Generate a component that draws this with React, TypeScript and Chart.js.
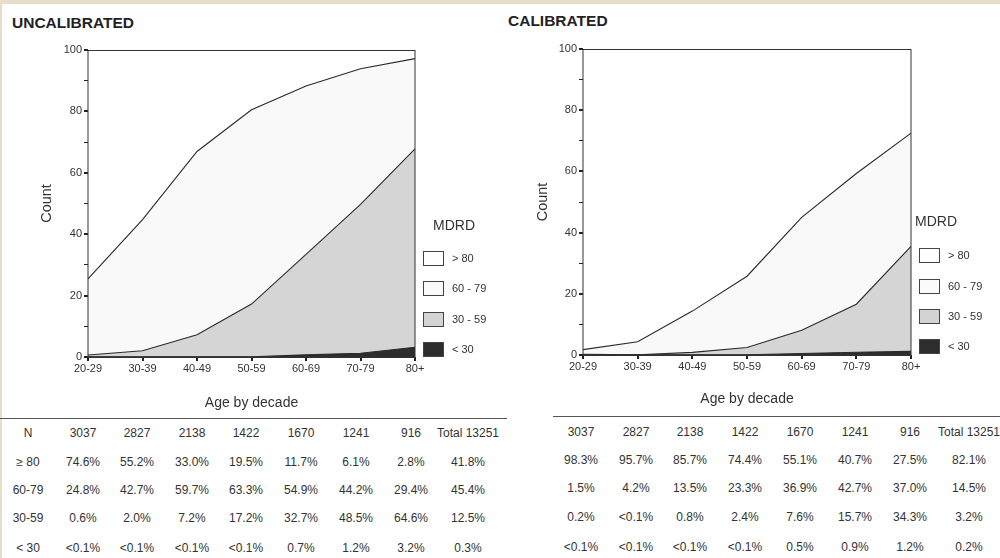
import React, { useEffect, useRef } from "react";
import { Chart, registerables } from "chart.js";

Chart.register(...registerables);

// ---------- data ----------
const AGE_GROUPS = ["20-29", "30-39", "40-49", "50-59", "60-69", "70-79", "80+"];
const N_COUNTS = [3037, 2827, 2138, 1422, 1670, 1241, 916];
const N_TOTAL = 13251;
const ROW_LABELS = ["\u2265 80", "60-79", "30-59", "< 30"];
const LEGEND_LABELS = ["> 80", "60 - 79", "30 - 59", "< 30"];
const Y_LABEL_EVERY = 20;

// percentages (0.05 stands for "<0.1%")
const UNCAL_GE80 = [74.6, 55.2, 33.0, 19.5, 11.7, 6.1, 2.8];
const UNCAL_60_79 = [24.8, 42.7, 59.7, 63.3, 54.9, 44.2, 29.4];
const UNCAL_30_59 = [0.6, 2.0, 7.2, 17.2, 32.7, 48.5, 64.6];
const UNCAL_LT30 = [0.05, 0.05, 0.05, 0.05, 0.7, 1.2, 3.2];
const UNCAL_TOTALS = [41.8, 45.4, 12.5, 0.3];

const CAL_GE80 = [98.3, 95.7, 85.7, 74.4, 55.1, 40.7, 27.5];
const CAL_60_79 = [1.5, 4.2, 13.5, 23.3, 36.9, 42.7, 37.0];
const CAL_30_59 = [0.2, 0.05, 0.8, 2.4, 7.6, 15.7, 34.3];
const CAL_LT30 = [0.05, 0.05, 0.05, 0.05, 0.5, 0.9, 1.2];
const CAL_TOTALS = [82.1, 14.5, 3.2, 0.2];

// ---------- styles ----------
const FONT = "'Liberation Sans', Arial, sans-serif";
const TEXT = "#333";
const FILLS = ["#2d2d2d", "#d5d5d5", "#f9f9f9", "#ffffff"]; // <30, 30-59, 60-79, >80
const LEGEND_FILLS = ["#ffffff", "#fafafa", "#d3d3d3", "#2d2d2d"]; // top to bottom

const fmt = (v: number) => (v < 0.1 ? "<0.1%" : v.toFixed(1) + "%");

const framePlugin = {
  id: "frame",
  afterDatasetsDraw(chart: any) {
    const { ctx, chartArea } = chart;
    const { left, top, right, bottom } = chartArea;
    ctx.save();
    ctx.strokeStyle = "#333";
    ctx.lineWidth = 1;
    ctx.strokeRect(left, top + 0.5, right - left, bottom - top - 0.5);
    ctx.restore();
  },
};

type PanelProps = {
  x: number;
  ge80: number[];
  r6079: number[];
  r3059: number[];
  lt30: number[];
  padTop: number;
  padRight: number;
  yWidth: number;
  xHeight: number;
  xTitlePad: number;
  yTitlePad: number;
};

function Panel(p: PanelProps) {
  const ref = useRef<HTMLCanvasElement>(null);
  useEffect(() => {
    if (!ref.current) return;
    const ds = (label: string, data: number[], fill: any, color: string) => ({
      label,
      data,
      fill,
      backgroundColor: color,
      borderColor: "#2a2a2a",
      borderWidth: 1.1,
      pointRadius: 0,
      tension: 0,
    });
    const chart = new Chart(ref.current, {
      type: "line",
      data: {
        labels: AGE_GROUPS,
        datasets: [
          ds(LEGEND_LABELS[3], p.lt30, "origin", FILLS[0]),
          ds(LEGEND_LABELS[2], p.r3059, "-1", FILLS[1]),
          ds(LEGEND_LABELS[1], p.r6079, "-1", FILLS[2]),
          ds(LEGEND_LABELS[0], p.ge80, "-1", FILLS[3]),
        ],
      },
      options: {
        animation: false,
        responsive: false,
        maintainAspectRatio: false,
        layout: { padding: { left: 0, top: p.padTop, right: p.padRight, bottom: 0 } },
        plugins: { legend: { display: false }, tooltip: { enabled: false } },
        scales: {
          x: {
            type: "category",
            offset: false,
            grid: { drawOnChartArea: false, tickLength: 4, color: "#222", lineWidth: 2 },
            border: { display: true, color: "#333", width: 1 },
            ticks: {
              font: { family: FONT, size: 11 },
              color: TEXT,
              padding: 1,
              maxRotation: 0,
              autoSkip: false,
            },
            title: {
              display: true,
              text: "Age by decade",
              font: { family: FONT, size: 14 },
              color: TEXT,
              padding: { top: 0, bottom: p.xTitlePad },
            },
            afterFit: (s: any) => {
              s.height = p.xHeight;
            },
          },
          y: {
            stacked: true,
            min: 0,
            max: 100,
            grid: {
              drawOnChartArea: false,
              tickLength: 4,
              color: "#222",
              lineWidth: (c: any) => (c.tick && c.tick.value % Y_LABEL_EVERY === 0 ? 2 : 1),
            },
            border: { display: true, color: "#333", width: 1 },
            ticks: {
              stepSize: 10,
              font: { family: FONT, size: 11 },
              color: TEXT,
              padding: 2,
              callback: (v: any) => (Number(v) % Y_LABEL_EVERY === 0 ? String(v) : ""),
            },
            title: {
              display: true,
              text: "Count",
              font: { family: FONT, size: 14.5 },
              color: TEXT,
              padding: { top: p.yTitlePad, bottom: 0 },
            },
            afterFit: (s: any) => {
              s.width = p.yWidth;
            },
          },
        },
      },
      plugins: [framePlugin],
    } as any);
    return () => chart.destroy();
  }, []);
  return (
    <canvas
      ref={ref}
      width={500}
      height={420}
      style={{ position: "absolute", left: p.x, top: 0, width: 500, height: 420 }}
    />
  );
}

function Txt(props: { x: number; y: number; text: string; size?: number; bold?: boolean; align?: "left" | "center"; w?: number }) {
  const w = props.w ?? 90;
  const align = props.align ?? "center";
  const left = align === "center" ? props.x - w / 2 : props.x;
  return (
    <div
      style={{
        position: "absolute",
        left,
        top: props.y - 10,
        width: w,
        height: 20,
        lineHeight: "20px",
        textAlign: align,
        fontFamily: FONT,
        fontSize: props.size ?? 12,
        fontWeight: props.bold ? "bold" : "normal",
        color: props.bold ? "#222" : TEXT,
        whiteSpace: "nowrap",
      }}
    >
      {props.text}
    </div>
  );
}

function Legend(props: { x: number; titleX: number; titleY: number; ys: number[]; labelX: number }) {
  return (
    <>
      <Txt x={props.titleX} y={props.titleY} text="MDRD" size={14} align="left" />
      {LEGEND_LABELS.map((lab, i) => (
        <React.Fragment key={lab}>
          <div
            style={{
              position: "absolute",
              left: props.x,
              top: props.ys[i] - 7,
              width: 19,
              height: 13,
              background: LEGEND_FILLS[i],
              border: "1px solid #444",
            }}
          />
          <Txt x={props.labelX} y={props.ys[i]} text={lab} size={11} align="left" />
        </React.Fragment>
      ))}
    </>
  );
}

function Table(props: {
  cols: number[];
  totalX: number;
  rowYs: number[];
  rows: number[][];
  totals: number[];
  labelX?: number;
}) {
  const out: any[] = [];
  if (props.labelX !== undefined) {
    out.push(<Txt key="nl" x={props.labelX} y={props.rowYs[0]} text="N" />);
    ROW_LABELS.forEach((l, i) =>
      out.push(<Txt key={"rl" + i} x={props.labelX!} y={props.rowYs[i + 1]} text={l} />)
    );
  }
  N_COUNTS.forEach((n, j) => out.push(<Txt key={"n" + j} x={props.cols[j]} y={props.rowYs[0]} text={String(n)} />));
  out.push(<Txt key="nt" x={props.totalX} y={props.rowYs[0]} text={"Total " + N_TOTAL} />);
  props.rows.forEach((row, i) => {
    row.forEach((v, j) =>
      out.push(<Txt key={"c" + i + "_" + j} x={props.cols[j]} y={props.rowYs[i + 1]} text={fmt(v)} />)
    );
    out.push(<Txt key={"t" + i} x={props.totalX} y={props.rowYs[i + 1]} text={fmt(props.totals[i])} />);
  });
  return <>{out}</>;
}

export default function App() {
  return (
    <div
      style={{
        position: "absolute",
        left: 0,
        top: 0,
        width: 1000,
        height: 558,
        overflow: "hidden",
        background: "#e8dec8",
      }}
    >
      <div style={{ position: "absolute", left: 2, top: 4, width: 998, height: 554, background: "#fff" }} />
      <Txt x={12} y={23} text="UNCALIBRATED" size={15.5} bold align="left" w={200} />
      <Txt x={508} y={21} text="CALIBRATED" size={15.5} bold align="left" w={200} />

      <Panel
        x={0}
        ge80={UNCAL_GE80}
        r6079={UNCAL_60_79}
        r3059={UNCAL_30_59}
        lt30={UNCAL_LT30}
        padTop={50}
        padRight={85}
        yWidth={88}
        xHeight={63}
        xTitlePad={8}
        yTitlePad={38}
      />
      <Panel
        x={500}
        ge80={CAL_GE80}
        r6079={CAL_60_79}
        r3059={CAL_30_59}
        lt30={CAL_LT30}
        padTop={49}
        padRight={89}
        yWidth={83}
        xHeight={65}
        xTitlePad={12}
        yTitlePad={34}
      />

      <Legend x={423} titleX={433} titleY={225} ys={[258, 288, 319, 349]} labelX={452} />
      <Legend x={919} titleX={915} titleY={221} ys={[255, 286, 316, 346]} labelX={948} />

      <div style={{ position: "absolute", left: 0, top: 418, width: 507, height: 1, background: "#555" }} />
      <div style={{ position: "absolute", left: 553, top: 416, width: 447, height: 1, background: "#555" }} />

      <Table
        labelX={28}
        cols={[83, 137, 192, 246, 301, 356, 411]}
        totalX={468}
        rowYs={[433, 462, 490, 518, 548]}
        rows={[UNCAL_GE80, UNCAL_60_79, UNCAL_30_59, UNCAL_LT30]}
        totals={UNCAL_TOTALS}
      />
      <Table
        cols={[581, 636, 690, 745, 800, 855, 910]}
        totalX={969}
        rowYs={[432, 460, 488, 517, 547]}
        rows={[CAL_GE80, CAL_60_79, CAL_30_59, CAL_LT30]}
        totals={CAL_TOTALS}
      />
    </div>
  );
}
